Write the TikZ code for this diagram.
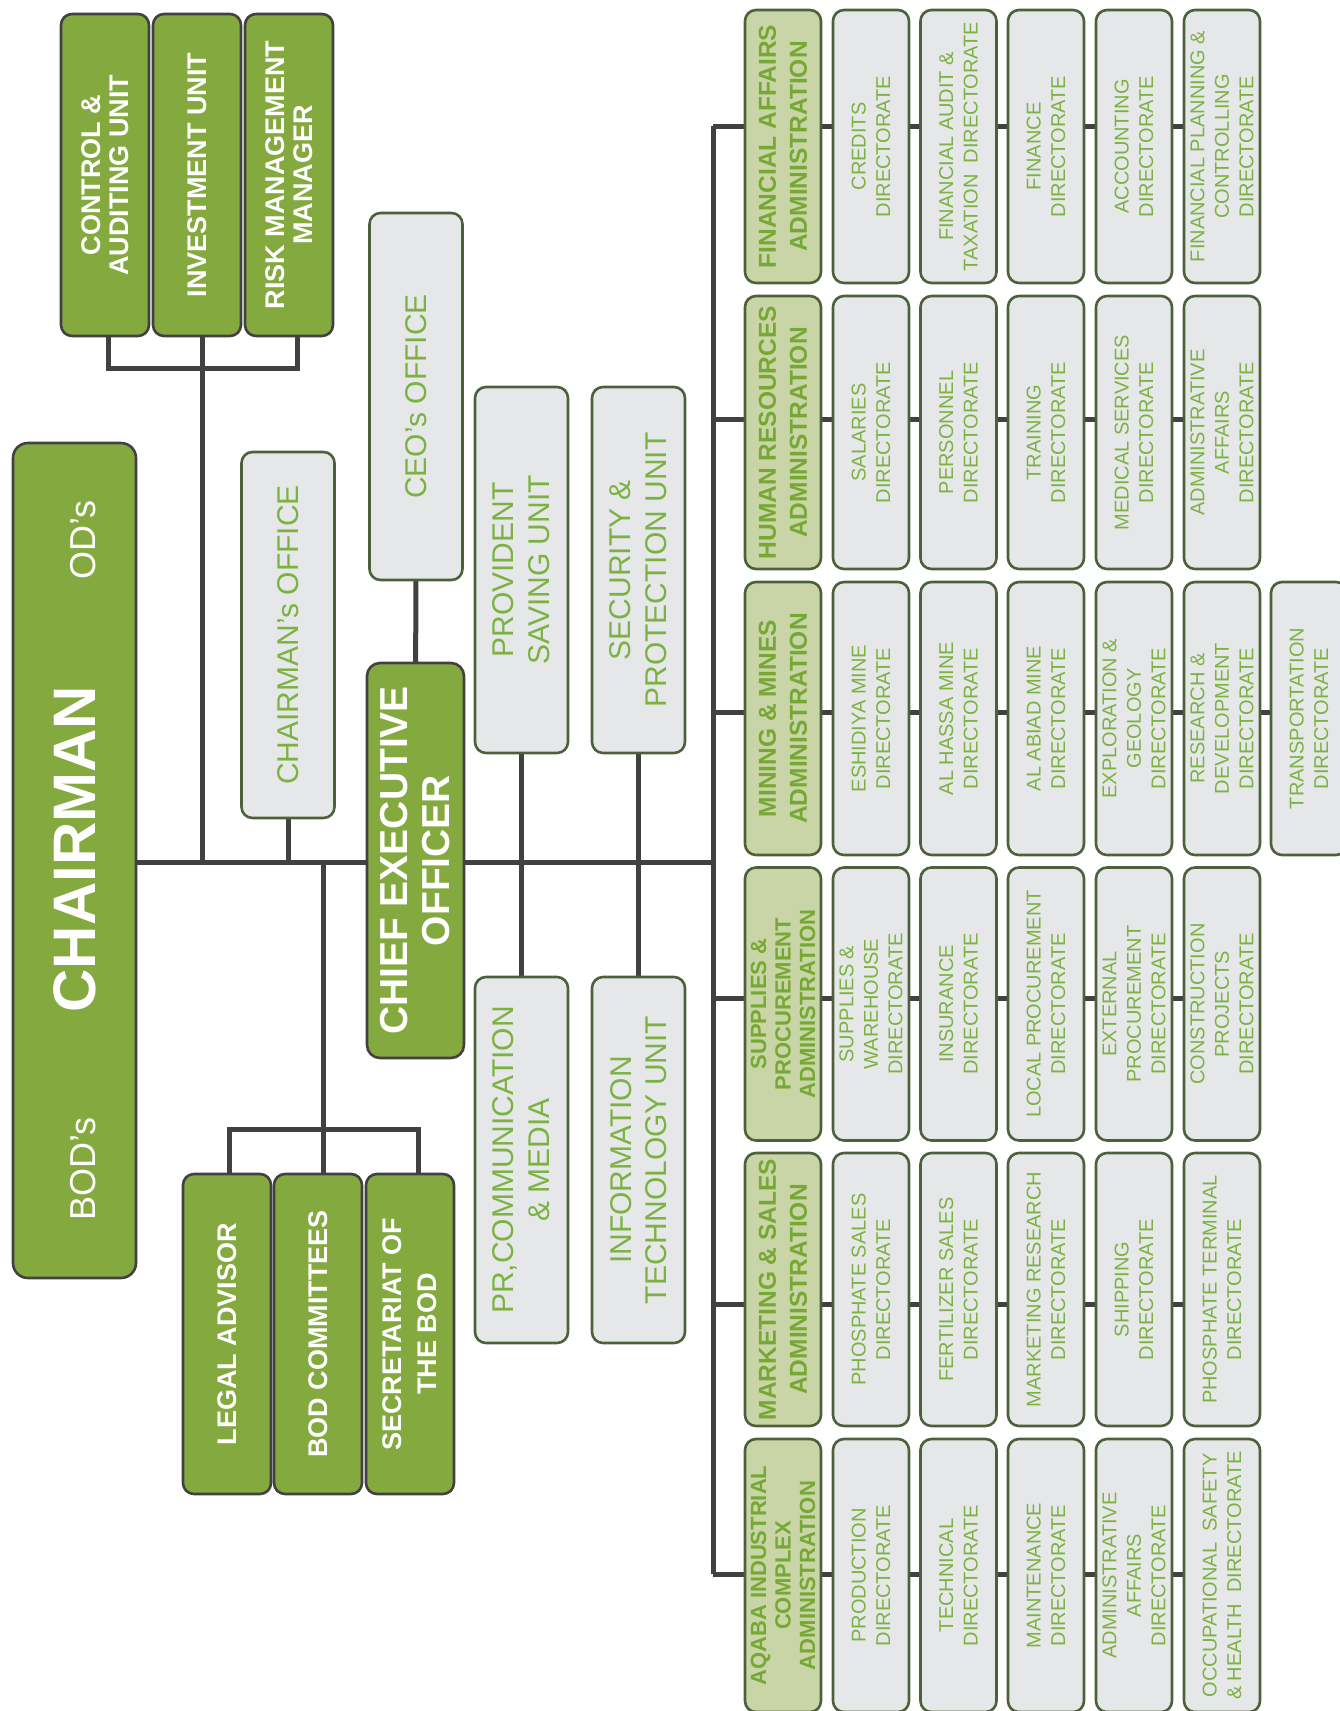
\documentclass[tikz,border=0pt]{standalone}
\usepackage{fontspec}
\setmainfont{Liberation Sans}
\usetikzlibrary{backgrounds}
\definecolor{greenC}{RGB}{132,169,63}
\definecolor{lightG}{RGB}{201,213,166}
\definecolor{greyC}{RGB}{230,231,232}
\definecolor{textG}{RGB}{124,178,66}
\definecolor{adminT}{RGB}{118,168,52}
\definecolor{borderG}{RGB}{78,96,58}
\definecolor{lineC}{RGB}{65,65,65}
\begin{document}
\begin{tikzpicture}[x=1pt,y=-1pt,
  base/.style={rounded corners=11pt, line width=2.6pt, rotate=90, inner sep=0pt, align=center, anchor=center},
  gbox/.style={base, draw=lineC, fill=greenC, text=white, font=\bfseries\fontsize{27}{28}\selectfont},
  obox/.style={base, draw=borderG, fill=greyC, text=textG, font=\fontsize{30}{36}\selectfont, minimum width=366pt, minimum height=93pt},
  abox/.style={base, draw=borderG, fill=lightG, text=adminT, font=\bfseries\fontsize{24.5}{31}\selectfont, minimum width=273pt, minimum height=76pt},
  abox3/.style={abox, font=\bfseries\fontsize{22}{24.5}\selectfont},
  dbox/.style={base, draw=borderG, fill=greyC, text=textG, font=\fontsize{20}{24.5}\selectfont, minimum width=273pt, minimum height=76pt},
  conn/.style={line width=5pt, draw=lineC}
]
\useasboundingbox (0,0) rectangle (1340,1711);

% ---------- top units ----------
\node[gbox, minimum width=322pt, minimum height=88pt] (ctrl) at (105,175) {CONTROL \&\\AUDITING UNIT};
\node[gbox, minimum width=322pt, minimum height=88pt] (inv) at (197,175) {INVESTMENT UNIT};
\node[gbox, minimum width=322pt, minimum height=88pt] (risk) at (289,175) {RISK MANAGEMENT\\MANAGER};

% ---------- chairman ----------
\node[base, draw=lineC, fill=greenC, rounded corners=15pt, minimum width=835pt, minimum height=123pt] (chair) at (74.5,860.5) {};
\node[rotate=90, inner sep=0pt, text=white, font=\bfseries\fontsize{60}{60}\selectfont] (chairT) at (75,849) {CHAIRMAN};
\node[rotate=90, inner sep=0pt, text=white, font=\fontsize{36}{36}\selectfont] (odT) at (83.5,540) {OD's};
\node[rotate=90, inner sep=0pt, text=white, font=\fontsize{36}{36}\selectfont] (bodT) at (83.5,1169) {BOD's};

% ---------- offices ----------
\node[obox] (choff) at (288,635) {CHAIRMAN's OFFICE};
\node[obox, minimum width=367pt] (ceooff) at (416,396.5) {CEO's OFFICE};
\node[gbox, rounded corners=13pt, minimum width=395pt, minimum height=97pt, font=\bfseries\fontsize{39}{42}\selectfont] (ceo) at (415.5,860.5) {CHIEF EXECUTIVE\\OFFICER};
\node[obox] (prov) at (521.5,570) {PROVIDENT\\SAVING UNIT};
\node[obox] (secu) at (638.5,570) {SECURITY \&\\PROTECTION UNIT};
\node[obox] (pr) at (521.5,1160) {PR,COMMUNICATION\\\& MEDIA};
\node[obox, font=\fontsize{30}{35}\selectfont] (it) at (638.5,1160) {INFORMATION\\TECHNOLOGY UNIT};

% ---------- BOD units ----------
\node[gbox, minimum width=320pt, minimum height=88pt] (legal) at (227,1334) {LEGAL ADVISOR};
\node[gbox, minimum width=320pt, minimum height=88pt] (bodc) at (318,1334) {BOD COMMITTEES};
\node[gbox, minimum width=320pt, minimum height=88pt, font=\bfseries\fontsize{27}{35}\selectfont] (secr) at (410,1334) {SECRETARIAT OF\\THE BOD};

% ---------- administrations ----------
\node[abox] (fa) at (783,146.5) {FINANCIAL AFFAIRS\\ADMINISTRATION};
\node[abox] (hr) at (783,432.5) {HUMAN RESOURCES\\ADMINISTRATION};
\node[abox] (mm) at (783,718.5) {MINING \& MINES\\ADMINISTRATION};
\node[abox3] (sp) at (783,1004) {SUPPLIES \&\\PROCUREMENT\\ADMINISTRATION};
\node[abox] (ms) at (783,1289.5) {MARKETING \& SALES\\ADMINISTRATION};
\node[abox3] (aq) at (783,1575.5) {AQABA INDUSTRIAL\\COMPLEX\\ADMINISTRATION};

% ---------- directorates: financial ----------
\node[dbox] (fa1) at (871,146.5) {CREDITS\\DIRECTORATE};
\node[dbox] (fa2) at (958.5,146.5) {FINANCIAL AUDIT \&\\TAXATION\ \ DIRECTORATE};
\node[dbox] (fa3) at (1046,146.5) {FINANCE\\DIRECTORATE};
\node[dbox] (fa4) at (1134,146.5) {ACCOUNTING\\DIRECTORATE};
\node[dbox] (fa5) at (1222,146.5) {FINANCIAL PLANNING \&\\CONTROLLING\\DIRECTORATE};
% human resources
\node[dbox] (hr1) at (871,432.5) {SALARIES\\DIRECTORATE};
\node[dbox] (hr2) at (958.5,432.5) {PERSONNEL\\DIRECTORATE};
\node[dbox] (hr3) at (1046,432.5) {TRAINING\\DIRECTORATE};
\node[dbox] (hr4) at (1134,432.5) {MEDICAL SERVICES\\DIRECTORATE};
\node[dbox] (hr5) at (1222,432.5) {ADMINISTRATIVE\\AFFAIRS\\DIRECTORATE};
% mining
\node[dbox] (mm1) at (871,718.5) {ESHIDIYA MINE\\DIRECTORATE};
\node[dbox] (mm2) at (958.5,718.5) {AL HASSA MINE\\DIRECTORATE};
\node[dbox] (mm3) at (1046,718.5) {AL ABIAD MINE\\DIRECTORATE};
\node[dbox] (mm4) at (1134,718.5) {EXPLORATION \&\\GEOLOGY\\DIRECTORATE};
\node[dbox] (mm5) at (1222,718.5) {RESEARCH \&\\DEVELOPMENT\\DIRECTORATE};
\node[dbox] (mm6) at (1309,718.5) {TRANSPORTATION\\DIRECTORATE};
% supplies
\node[dbox] (sp1) at (871,1004) {SUPPLIES \&\\WAREHOUSE\\DIRECTORATE};
\node[dbox] (sp2) at (958.5,1004) {INSURANCE\\DIRECTORATE};
\node[dbox] (sp3) at (1046,1004) {LOCAL PROCUREMENT\\DIRECTORATE};
\node[dbox] (sp4) at (1134,1004) {EXTERNAL\\PROCUREMENT\\DIRECTORATE};
\node[dbox] (sp5) at (1222,1004) {CONSTRUCTION\\PROJECTS\\DIRECTORATE};
% marketing
\node[dbox] (ms1) at (871,1289.5) {PHOSPHATE SALES\\DIRECTORATE};
\node[dbox] (ms2) at (958.5,1289.5) {FERTILIZER SALES\\DIRECTORATE};
\node[dbox] (ms3) at (1046,1289.5) {MARKETING RESEARCH\\DIRECTORATE};
\node[dbox] (ms4) at (1134,1289.5) {SHIPPING\\DIRECTORATE};
\node[dbox] (ms5) at (1222,1289.5) {PHOSPHATE TERMINAL\\DIRECTORATE};
% aqaba
\node[dbox] (aq1) at (871,1575.5) {PRODUCTION\\DIRECTORATE};
\node[dbox] (aq2) at (958.5,1575.5) {TECHNICAL\\DIRECTORATE};
\node[dbox] (aq3) at (1046,1575.5) {MAINTENANCE\\DIRECTORATE};
\node[dbox] (aq4) at (1134,1575.5) {ADMINISTRATIVE\\AFFAIRS\\DIRECTORATE};
\node[dbox] (aq5) at (1222,1575.5) {OCCUPATIONAL\ \ SAFETY\\\& HEALTH\ \ DIRECTORATE};

% ---------- junction coordinates ----------
\coordinate (hub) at (713,862);
\coordinate (topJ) at (202,368);
\coordinate (botJ) at (323,1129);
\coordinate (b1) at (713,126);
\coordinate (b2) at (713,419);
\coordinate (b3) at (713,712);
\coordinate (b4) at (713,998);
\coordinate (b5) at (713,1304);
\coordinate (b6) at (713,1574);

% ---------- connectors ----------
\begin{scope}[on background layer]
  \draw[conn] (chair.center |- hub) -- (hub);
  \draw[conn] (b1) -- (b6);
  % top bracket
  \draw[conn] ([xshift=3pt]ctrl.center) |- (topJ) -| ([xshift=8pt]risk.center);
  \draw[conn] ([xshift=5pt]inv.center) -- ([xshift=5pt]inv.center |- hub);
  % offices
  \draw[conn] (choff.center) -- (choff.center |- hub);
  \draw[conn] (ceooff.center) -- (ceo.center);
  \draw[conn] (prov.center) -- (pr.center);
  \draw[conn] (secu.center) -- (it.center);
  % bottom bracket
  \draw[conn] ([xshift=5pt]bodc.center) -- ([xshift=5pt]bodc.center |- hub);
  \draw[conn] ([xshift=2pt]legal.center) |- (botJ) -| ([xshift=8pt]secr.center);
  % rows
  \draw[conn] (b1) -- (fa5.center |- b1);
  \draw[conn] (b2) -- (hr5.center |- b2);
  \draw[conn] (b3) -- (mm6.center |- b3);
  \draw[conn] (b4) -- (sp5.center |- b4);
  \draw[conn] (b5) -- (ms5.center |- b5);
  \draw[conn] (b6) -- (aq5.center |- b6);
\end{scope}
\end{tikzpicture}
\end{document}
